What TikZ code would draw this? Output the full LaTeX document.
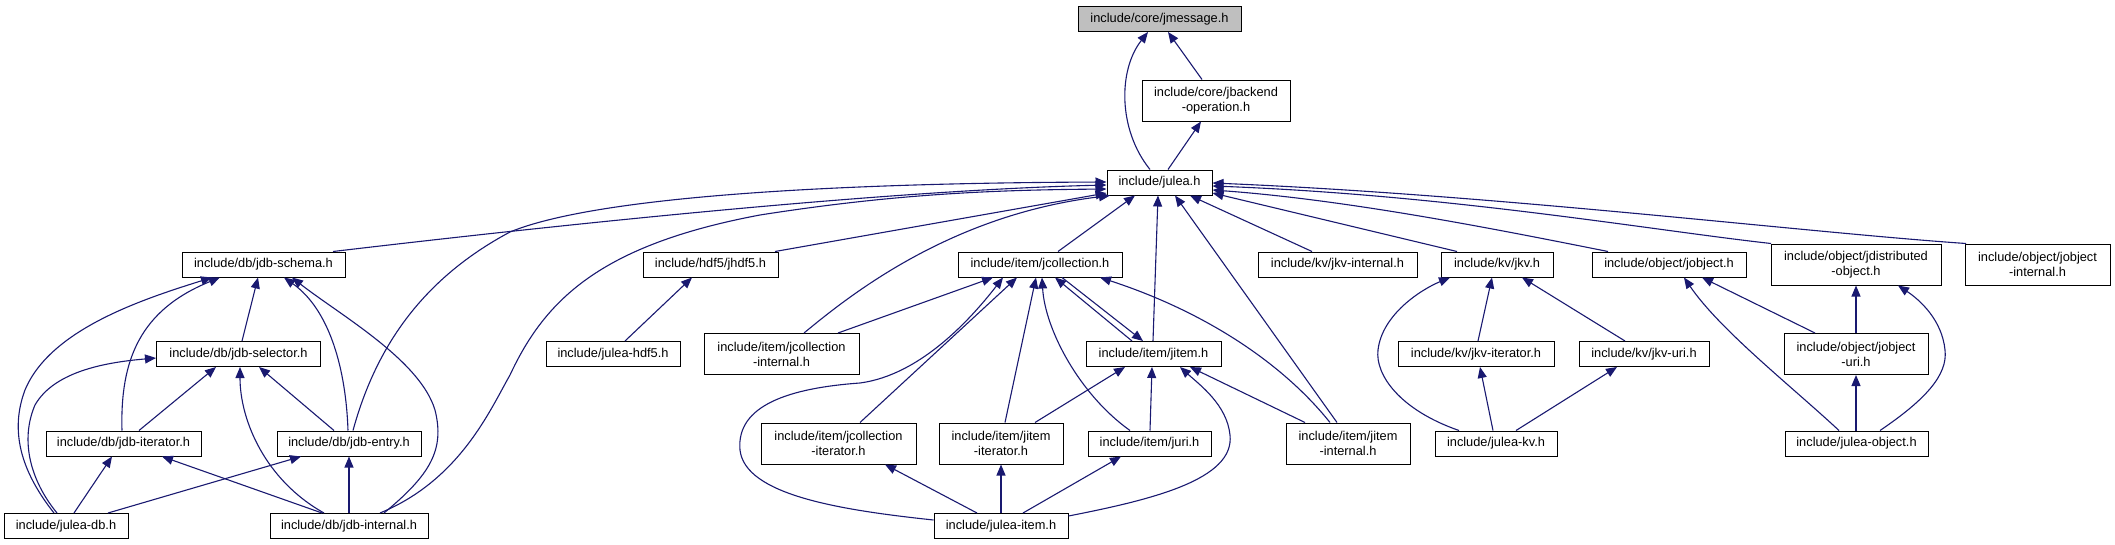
\documentclass[tikz,border=0pt]{standalone}
\usepackage{fontspec}
\setmainfont{Liberation Sans}
\usetikzlibrary{arrows.meta}
\definecolor{edgeblue}{HTML}{191970}
\definecolor{nodegrey}{HTML}{BFBFBF}
\begin{document}
\begin{tikzpicture}[x=1pt,y=-1pt,
  box/.style={draw=black, line width=1pt, fill=white, inner sep=0pt, minimum height=25pt, align=center, font=\fontsize{12.8}{15}\selectfont},
  boxtwo/.style={box, minimum height=41pt},
  dep/.style={draw=edgeblue, line width=1.1pt, -{Triangle[length=11pt,width=9pt]}}]
\useasboundingbox (0,0) rectangle (2115,544);
% row 0-2
\node[box, minimum width=163pt, fill=nodegrey] (jmessage) at (1159.5,19) {include/core/jmessage.h};
\node[boxtwo, minimum width=148pt] (jbackend) at (1216,100.5) {include/core/jbackend\\-operation.h};
\node[box, minimum width=105pt] (julea) at (1159.5,182.5) {include/julea.h};
% row 3
\node[box, minimum width=163pt] (jdbschema) at (263.5,264.5) {include/db/jdb-schema.h};
\node[box, minimum width=135pt] (jhdf5) at (710.5,264.5) {include/hdf5/jhdf5.h};
\node[box, minimum width=164pt] (jcollection) at (1040,264.5) {include/item/jcollection.h};
\node[box, minimum width=159pt] (jkvinternal) at (1337.5,264.5) {include/kv/jkv-internal.h};
\node[box, minimum width=112pt] (jkv) at (1497,264.5) {include/kv/jkv.h};
\node[box, minimum width=154pt] (jobject) at (1669,264.5) {include/object/jobject.h};
\node[boxtwo, minimum width=170pt] (jdistributed) at (1856,264.5) {include/object/jdistributed\\-object.h};
\node[boxtwo, minimum width=145pt] (jobjectinternal) at (2037.5,264.5) {include/object/jobject\\-internal.h};
% row 4
\node[box, minimum width=164pt] (jdbselector) at (238.5,354) {include/db/jdb-selector.h};
\node[box, minimum width=134pt] (juleahdf5) at (613,354) {include/julea-hdf5.h};
\node[boxtwo, minimum width=155pt] (jcollinternal) at (781.5,354) {include/item/jcollection\\-internal.h};
\node[box, minimum width=135pt] (jitem) at (1153.5,354) {include/item/jitem.h};
\node[box, minimum width=156pt] (jkviterator) at (1476,354) {include/kv/jkv-iterator.h};
\node[box, minimum width=130pt] (jkvuri) at (1644,354) {include/kv/jkv-uri.h};
\node[boxtwo, minimum width=144pt] (jobjecturi) at (1856,354) {include/object/jobject\\-uri.h};
% row 5
\node[box, minimum width=155pt] (jdbiterator) at (123.5,443.5) {include/db/jdb-iterator.h};
\node[box, minimum width=144pt] (jdbentry) at (349,443.5) {include/db/jdb-entry.h};
\node[boxtwo, minimum width=155pt] (jcolliterator) at (838.5,443.5) {include/item/jcollection\\-iterator.h};
\node[boxtwo, minimum width=124pt] (jitemiterator) at (1001,443.5) {include/item/jitem\\-iterator.h};
\node[box, minimum width=123pt] (juri) at (1149.5,443.5) {include/item/juri.h};
\node[boxtwo, minimum width=124pt] (jiteminternal) at (1348,443.5) {include/item/jitem\\-internal.h};
\node[box, minimum width=122pt] (juleakv) at (1496,443.5) {include/julea-kv.h};
\node[box, minimum width=143pt] (juleaobject) at (1856.5,443.5) {include/julea-object.h};
% row 6
\node[box, minimum width=124pt] (juleadb) at (66,526) {include/julea-db.h};
\node[box, minimum width=158pt] (jdbinternal) at (349,526) {include/db/jdb-internal.h};
\node[box, minimum width=134pt] (juleaitem) at (1001,526) {include/julea-item.h};

% to jmessage / jbackend
\draw[dep] (1150,0 |- julea.north) .. controls (1118,130) and (1118,70) .. (1148,0 |- jmessage.south);
\draw[dep] (1202,0 |- jbackend.north) -- (1168,0 |- jmessage.south);
\draw[dep] (1168,0 |- julea.north) -- (1201,0 |- jbackend.south);

% to julea
\draw[dep] (333,0 |- jdbschema.north) .. controls (600,220) and (900,190) .. (julea.west |- 0,185);
\draw[dep] (775,0 |- jhdf5.north) -- (julea.west |- 0,193);
\draw[dep] (1058,0 |- jcollection.north) -- (1135,0 |- julea.south);
\draw[dep] (1153,0 |- jitem.north) -- (1158,0 |- julea.south);
\draw[dep] (1337,0 |- jiteminternal.north) -- (1175,0 |- julea.south);
\draw[dep] (1312,0 |- jkvinternal.north) -- (1190,0 |- julea.south);
\draw[dep] (1457,0 |- jkv.north) -- (julea.east |- 0,193);
\draw[dep] (1608,0 |- jobject.north) .. controls (1500,230) and (1350,200) .. (julea.east |- 0,190);
\draw[dep] (1771,0 |- jdistributed.north) .. controls (1650,230) and (1450,195) .. (julea.east |- 0,186);
\draw[dep] (1966,0 |- jobjectinternal.north) .. controls (1800,232) and (1500,195) .. (julea.east |- 0,183);
\draw[dep] (353,0 |- jdbentry.north) .. controls (375,350) and (420,280) .. (510,232) .. controls (600,195) and (850,183) .. (julea.west |- 0,182);
\draw[dep] (380,0 |- jdbinternal.north) .. controls (460,480) and (490,410) .. (510,375) .. controls (545,300) and (600,245) .. (760,215) .. controls (900,193) and (1000,190) .. (julea.west |- 0,189);
\draw[dep] (804,0 |- jcollinternal.north) .. controls (850,295) and (950,215) .. (1110,0 |- julea.south);

% to jdbschema
\draw[dep] (242,0 |- jdbselector.north) -- (258,0 |- jdbschema.south);
\draw[dep] (122,0 |- jdbiterator.north) .. controls (120,360) and (140,310) .. (220,0 |- jdbschema.south);
\draw[dep] (54,0 |- juleadb.north) .. controls (20,470) and (10,430) .. (25,390) .. controls (50,330) and (140,300) .. (212,0 |- jdbschema.south);
\draw[dep] (348,0 |- jdbentry.north) .. controls (346,370) and (330,310) .. (284,0 |- jdbschema.south);
\draw[dep] (384,0 |- jdbinternal.north) .. controls (430,475) and (445,450) .. (435,410) .. controls (420,360) and (340,315) .. (292,0 |- jdbschema.south);

% to jdbselector
\draw[dep] (57,0 |- juleadb.north) .. controls (30,480) and (20,440) .. (35,405) .. controls (55,370) and (110,362) .. (jdbselector.west |- 0,358);
\draw[dep] (139,0 |- jdbiterator.north) -- (216,0 |- jdbselector.south);
\draw[dep] (324,0 |- jdbinternal.north) .. controls (265,480) and (240,420) .. (240,0 |- jdbselector.south);
\draw[dep] (334,0 |- jdbentry.north) -- (259,0 |- jdbselector.south);
% to jdbiterator / jdbentry
\draw[dep] (74,0 |- juleadb.north) -- (112,0 |- jdbiterator.south);
\draw[dep] (322,0 |- jdbinternal.north) -- (162,0 |- jdbiterator.south);
\draw[dep] (108,0 |- juleadb.north) -- (301,0 |- jdbentry.south);
\draw[dep] (349,0 |- jdbinternal.north) -- (349,0 |- jdbentry.south);

% hdf5
\draw[dep] (625,0 |- juleahdf5.north) -- (692,0 |- jhdf5.south);

% to jcollection
\draw[dep] (838,0 |- jcollinternal.north) -- (993,0 |- jcollection.south);
\draw[dep] (1132,0 |- jitem.north) -- (1055,0 |- jcollection.south);
\draw[dep] (1062,0 |- jcollection.south) -- (1143,0 |- jitem.north);
\draw[dep] (860,0 |- jcolliterator.north) -- (1017,0 |- jcollection.south);
\draw[dep] (1005,0 |- jitemiterator.north) -- (1036,0 |- jcollection.south);
\draw[dep] (1130,0 |- juri.north) .. controls (1080,395) and (1045,330) .. (1042,0 |- jcollection.south);
\draw[dep] (1330,0 |- jiteminternal.north) .. controls (1280,360) and (1200,310) .. (1100,0 |- jcollection.south);
\draw[dep] (juleaitem.west |- 0,520) .. controls (840,510) and (745,495) .. (740,450) .. controls (736,405) and (790,388) .. (860,383) .. controls (920,375) and (970,320) .. (1003,0 |- jcollection.south);

% to jitem
\draw[dep] (1035,0 |- jitemiterator.north) -- (1125,0 |- jitem.south);
\draw[dep] (1150,0 |- juri.north) -- (1152,0 |- jitem.south);
\draw[dep] (1305,0 |- jiteminternal.north) -- (1190,0 |- jitem.south);
\draw[dep] (juleaitem.east |- 0,516) .. controls (1150,500) and (1235,480) .. (1230,435) .. controls (1227,405) and (1200,385) .. (1180,0 |- jitem.south);

% from julea-item
\draw[dep] (977,0 |- juleaitem.north) -- (885,0 |- jcolliterator.south);
\draw[dep] (1001,0 |- juleaitem.north) -- (1001,0 |- jitemiterator.south);
\draw[dep] (1023,0 |- juleaitem.north) -- (1121,0 |- juri.south);

% kv
\draw[dep] (1478,0 |- jkviterator.north) -- (1492,0 |- jkv.south);
\draw[dep] (1625,0 |- jkvuri.north) -- (1522,0 |- jkv.south);
\draw[dep] (1459,0 |- juleakv.north) .. controls (1400,410) and (1375,375) .. (1378,350) .. controls (1382,315) and (1420,290) .. (1450,0 |- jkv.south);
\draw[dep] (1493,0 |- juleakv.north) -- (1480,0 |- jkviterator.south);
\draw[dep] (1516,0 |- juleakv.north) -- (1617,0 |- jkvuri.south);

% object
\draw[dep] (1815,0 |- jobjecturi.north) -- (1702,0 |- jobject.south);
\draw[dep] (1839,0 |- juleaobject.north) .. controls (1790,385) and (1720,330) .. (1684,0 |- jobject.south);
\draw[dep] (1856,0 |- jobjecturi.north) -- (1856,0 |- jdistributed.south);
\draw[dep] (1880,0 |- juleaobject.north) .. controls (1925,400) and (1948,375) .. (1945,350) .. controls (1942,320) and (1920,300) .. (1898,0 |- jdistributed.south);
\draw[dep] (1856,0 |- juleaobject.north) -- (1856,0 |- jobjecturi.south);
\end{tikzpicture}
\end{document}
